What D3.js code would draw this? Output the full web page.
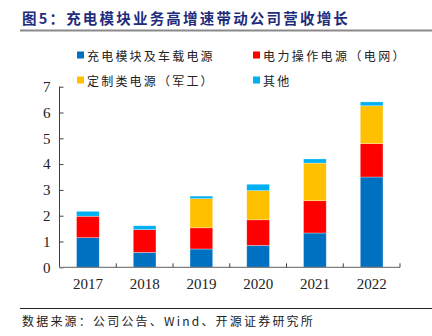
<!DOCTYPE html>
<html><head><meta charset="utf-8">
<script src="https://cdn.jsdelivr.net/npm/d3@7"></script>
<style>
html,body{margin:0;padding:0;background:#fff;}
svg{display:block;}
</style></head>
<body>
<script>
const categories = ["2017","2018","2019","2020","2021","2022"];
const seriesNames = ["充电模块及车载电源","电力操作电源（电网）","定制类电源（军工）","其他"];
const chargingModule = [1.15, 0.58, 0.71, 0.85, 1.33, 3.50];
const powerOperation = [0.83, 0.88, 0.82, 0.99, 1.25, 1.29];
const customPower    = [0.00, 0.00, 1.13, 1.13, 1.46, 1.47];
const others         = [0.19, 0.15, 0.10, 0.25, 0.16, 0.15];
const yTicks = [0,1,2,3,4,5,6,7];
const colors = ["#0070C0","#FF0000","#FFC000","#00B0F0"];
const titleText = "图5：充电模块业务高增速带动公司营收增长";
const sourceText = "数据来源：公司公告、Wind、开源证券研究所";

const W = 432, H = 336;
const svg = d3.select("body").append("svg").attr("width", W).attr("height", H);
const cjk = "'Noto Sans CJK SC', sans-serif";
const serif = "'Liberation Serif', 'Times New Roman', serif";

// title
svg.append("text").attr("x", 22).attr("y", 24)
  .attr("font-family", cjk).attr("font-weight", "bold").attr("font-size", 14.5)
  .attr("letter-spacing", 2.2).attr("fill", "#1F2C7C").text(titleText);
svg.append("line").attr("x1", 20).attr("x2", 432).attr("y1", 30.5).attr("y2", 30.5)
  .attr("stroke", "#8a8a8a").attr("stroke-width", 2);

// scales
const x = d3.scaleBand().domain(categories).range([59.5, 400]).paddingInner(0.6).paddingOuter(0.3);
const xb = d3.scaleBand().domain(categories).range([59.5, 400]);
const y = d3.scaleLinear().domain([0, 7]).range([267.3, 86.7]);

const data = categories.map((c, i) => ({cat: c, s0: chargingModule[i], s1: powerOperation[i], s2: customPower[i], s3: others[i]}));
const stack = d3.stack().keys(["s0","s1","s2","s3"])(data);

const g = svg.append("g");
stack.forEach((layer, k) => {
  g.selectAll(null).data(layer.filter(d => d[1] - d[0] > 0)).enter().append("rect")
    .attr("x", d => x(d.data.cat))
    .attr("width", x.bandwidth())
    .attr("y", d => y(d[1]))
    .attr("height", d => y(d[0]) - y(d[1]))
    .attr("fill", colors[k])
    .attr("stroke", "rgba(255,255,255,0.5)").attr("stroke-width", 0.6);
});

// y axis
const yAxis = d3.axisLeft(y).tickValues(yTicks).tickSize(-4).tickPadding(9).tickFormat(d3.format("d"));
const ya = svg.append("g").attr("transform", "translate(59.5,0)").call(yAxis);
ya.select(".domain").attr("stroke", "#404040").attr("d", `M-0,${y(7)}V${y(0)}`);
ya.selectAll(".tick line").attr("stroke", "#404040");
ya.selectAll("text").attr("font-family", serif).attr("font-size", 15).attr("fill", "#222");

// x axis
const xa = svg.append("g").attr("transform", `translate(0,${y(0)})`)
  .call(d3.axisBottom(xb).tickSize(0).tickPadding(11));
xa.select(".domain").attr("stroke", "#808080").attr("stroke-width", 1.2).attr("d", `M59.5,0H400`);
xa.selectAll("text").attr("font-family", serif).attr("font-size", 15).attr("fill", "#222");
// boundary ticks
const bounds = categories.map(c => xb(c) + xb.bandwidth());
xa.selectAll(".btick").data(bounds).enter().append("line")
  .attr("x1", d => d).attr("x2", d => d).attr("y1", 0).attr("y2", -4)
  .attr("stroke", "#404040");

// legend
const legPos = [[77, 56], [253, 56], [77, 81], [253, 81]];
seriesNames.forEach((n, i) => {
  const [lx, ly] = legPos[i];
  svg.append("rect").attr("x", lx).attr("y", ly - 4.5).attr("width", 7).attr("height", 7).attr("fill", colors[i]);
  svg.append("text").attr("x", lx + 10).attr("y", ly + 4.5)
    .attr("font-family", cjk).attr("font-size", 12).attr("letter-spacing", i === 1 ? 2.4 : 2.2)
    .attr("fill", "#222").text(n);
});

// footer
svg.append("line").attr("x1", 20).attr("x2", 432).attr("y1", 308.5).attr("y2", 308.5)
  .attr("stroke", "#222").attr("stroke-width", 1);
svg.append("text").attr("x", 22).attr("y", 326)
  .attr("font-family", cjk).attr("font-size", 12).attr("letter-spacing", 2.2)
  .attr("fill", "#222").text(sourceText);
</script>
</body></html>
